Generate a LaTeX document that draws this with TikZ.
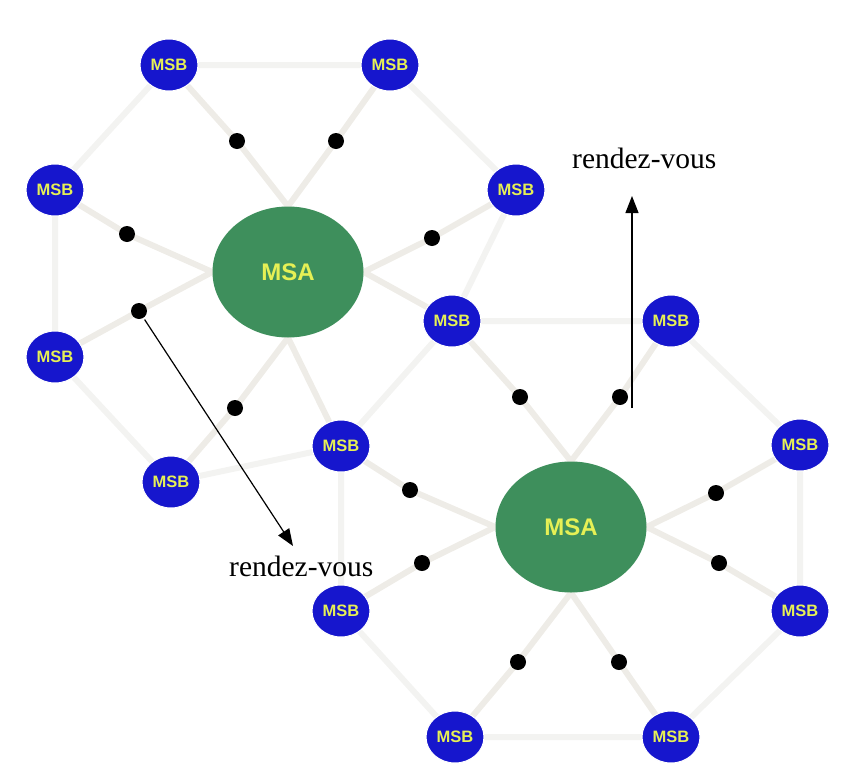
\documentclass[tikz,border=0pt]{standalone}
\usepackage{fontspec}
\setmainfont{Liberation Serif}
\newfontfamily\lsans{Liberation Sans}
\usetikzlibrary{shapes.geometric,arrows.meta,backgrounds}
\definecolor{msbblue}{RGB}{22,22,205}
\definecolor{msagreen}{RGB}{62,143,92}
\definecolor{lbl}{RGB}{230,240,85}
\definecolor{spoke}{RGB}{238,236,231}
\definecolor{ring}{RGB}{243,243,241}
\tikzset{
  msb/.style={ellipse, fill=msbblue, draw=white, line width=1pt,
    minimum width=58pt, minimum height=52pt, inner sep=0pt,
    text=lbl, font=\lsans\bfseries\fontsize{16.5}{16.5}\selectfont},
  msa/.style={ellipse, fill=msagreen, minimum width=151pt, minimum height=131pt,
    inner sep=0pt, text=lbl, font=\lsans\bfseries\fontsize{24}{24}\selectfont},
  dot/.style={circle, fill=black, minimum size=16pt, inner sep=0pt},
  spokeline/.style={draw=spoke, line width=6pt, line join=round},
  ringline/.style={draw=ring, line width=6pt},
  rdv/.style={font=\fontsize{29.5}{30}\selectfont, inner sep=0pt},
  rdvarrow/.style={draw=black, line width=1.2pt, -{Triangle[length=17pt,width=13pt]}}
}
\begin{document}
\begin{tikzpicture}[x=1pt,y=-1pt]
\useasboundingbox (0,0) rectangle (847,782);
% access points
\node[msa] (m1) at (288,272) {MSA};
\node[msa] (m2) at (571,527) {MSA};
% base stations
\node[msb] (b1)  at (169,65)  {MSB};
\node[msb] (b2)  at (390,65)  {MSB};
\node[msb] (b3)  at (55,190)  {MSB};
\node[msb] (b4)  at (516,190) {MSB};
\node[msb] (b5)  at (55,357)  {MSB};
\node[msb] (b6)  at (171,482) {MSB};
\node[msb] (b7)  at (341,446) {MSB};
\node[msb] (b8)  at (452,321) {MSB};
\node[msb] (b9)  at (671,321) {MSB};
\node[msb] (b10) at (800,445) {MSB};
\node[msb] (b11) at (800,611) {MSB};
\node[msb] (b12) at (671,737) {MSB};
\node[msb] (b13) at (455,737) {MSB};
\node[msb] (b14) at (341,611) {MSB};
% relay points
\node[dot] (d1)  at (237,141) {};
\node[dot] (d2)  at (336,141) {};
\node[dot] (d3)  at (127,234) {};
\node[dot] (d4)  at (139,311) {};
\node[dot] (d5)  at (432,238) {};
\node[dot] (d6)  at (235,408) {};
\node[dot] (d7)  at (520,397) {};
\node[dot] (d8)  at (620,397) {};
\node[dot] (d9)  at (410,490) {};
\node[dot] (d10) at (422,563) {};
\node[dot] (d11) at (716,493) {};
\node[dot] (d12) at (719,563) {};
\node[dot] (d13) at (518,662) {};
\node[dot] (d14) at (619,662) {};
% faint links behind the nodes
\begin{pgfonlayer}{background}
  % outer rings
  \draw[ringline] (b1.center) -- (b2.center) -- (b4.center) -- (b8.center)
                  (b1.center) -- (b3.center) -- (b5.center) -- (b6.center) -- (b7.center);
  \draw[ringline] (b8.center) -- (b9.center) -- (b10.center) -- (b11.center)
                  -- (b12.center) -- (b13.center) -- (b14.center) -- (b7.center) -- (b8.center);
  % spokes of the first access point
  \draw[spokeline] (b1.center) -- (d1.center) -- (m1.north) -- (d2.center) -- (b2.center);
  \draw[spokeline] (b3.center) -- (d3.center) -- (m1.west) -- (d4.center) -- (b5.center);
  \draw[spokeline] (b4.center) -- (d5.center) -- (m1.east) -- (b8.center);
  \draw[spokeline] (b6.center) -- (d6.center) -- (m1.south) -- (b7.center);
  % spokes of the second access point
  \draw[spokeline] (b8.center) -- (d7.center) -- (m2.north) -- (d8.center) -- (b9.center);
  \draw[spokeline] (b7.center) -- (d9.center) -- (m2.west) -- (d10.center) -- (b14.center);
  \draw[spokeline] (b10.center) -- (d11.center) -- (m2.east) -- (d12.center) -- (b11.center);
  \draw[spokeline] (b13.center) -- (d13.center) -- (m2.south) -- (d14.center) -- (b12.center);
\end{pgfonlayer}
% rendez-vous annotations
\coordinate (t1) at (293,546);
\node[rdv, anchor=base west] (l1) at (229,576) {rendez-vous};
\draw[rdvarrow, shorten <=2pt] (d4) -- (t1);
\coordinate (s2) at (632,408);
\coordinate (t2) at (632,196);
\node[rdv, anchor=base west] (l2) at (572,168) {rendez-vous};
\draw[rdvarrow] (s2) -- (t2);
\end{tikzpicture}
\end{document}
